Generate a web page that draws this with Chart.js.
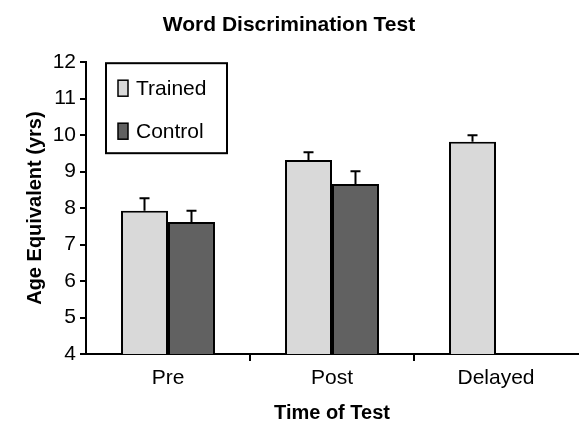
<!DOCTYPE html>
<html>
<head>
<meta charset="utf-8">
<script src="https://cdn.jsdelivr.net/npm/chart.js@4/dist/chart.umd.min.js"></script>
<style>
  html, body { margin: 0; padding: 0; background: #fff; }
  #wrap { width: 579px; height: 425px; }
</style>
</head>
<body>
<div id="wrap"><canvas id="myChart"></canvas></div>
<script>
const categories = ['Pre', 'Post', 'Delayed'];
const trained = [7.93, 9.32, 9.82];
const trainedErr = [0.34, 0.21, 0.18];
const control = [7.62, 8.66, null];
const controlErr = [0.31, 0.35, null];
const yTicks = [4, 5, 6, 7, 8, 9, 10, 11, 12];

const FONT = "'Liberation Sans', Arial, sans-serif";

// error bars drawn from the bar elements and the y scale
const errorBars = {
    id: 'errorBars',
    afterDatasetsDraw(chart) {
        const ctx = chart.ctx;
        const yScale = chart.scales.y;
        chart.data.datasets.forEach((ds, di) => {
            const meta = chart.getDatasetMeta(di);
            meta.data.forEach((bar, i) => {
                const v = ds.data[i];
                const e = ds.errors[i];
                if (v == null || e == null) return;
                const yTop = yScale.getPixelForValue(v + e);
                ctx.save();
                ctx.strokeStyle = '#000';
                ctx.lineWidth = 2;
                ctx.beginPath();
                ctx.moveTo(bar.x, bar.y);
                ctx.lineTo(bar.x, yTop);
                ctx.moveTo(bar.x - 5, yTop);
                ctx.lineTo(bar.x + 5, yTop);
                ctx.stroke();
                ctx.restore();
            });
        });
    }
};

// boxed legend inside the plot, top left
const boxLegend = {
    id: 'boxLegend',
    afterDraw(chart) {
        const ctx = chart.ctx;
        const x0 = chart.chartArea.left + 20;
        const y0 = chart.chartArea.top + 1;
        ctx.save();
        ctx.strokeStyle = '#000';
        ctx.lineWidth = 2;
        ctx.strokeRect(x0, y0, 121, 90);
        ctx.font = '21px ' + FONT;
        ctx.textBaseline = 'middle';
        chart.data.datasets.forEach((ds, i) => {
            const cy = y0 + 25 + i * 43;
            ctx.fillStyle = ds.backgroundColor;
            ctx.fillRect(x0 + 12, cy - 8, 10, 16);
            ctx.lineWidth = 1.5;
            ctx.strokeRect(x0 + 12, cy - 8, 10, 16);
            ctx.fillStyle = '#000';
            ctx.fillText(ds.label, x0 + 30, cy + 1);
        });
        ctx.restore();
    }
};

const ctx = document.getElementById('myChart').getContext('2d');
const myChart = new Chart(ctx, {
    type: 'bar',
    data: {
        labels: categories,
        datasets: [{
            label: 'Trained',
            data: trained,
            errors: trainedErr,
            backgroundColor: '#d9d9d9',
            borderColor: '#000',
            borderWidth: 2,
            borderSkipped: 'bottom'
        }, {
            label: 'Control',
            data: control,
            errors: controlErr,
            backgroundColor: '#616161',
            borderColor: '#000',
            borderWidth: 2,
            borderSkipped: 'bottom'
        }]
    },
    options: {
        responsive: true,
        maintainAspectRatio: false,
        animation: false,
        layout: { padding: { right: 1, left: 0, top: 0, bottom: 0 } },
        categoryPercentage: 0.573,
        barPercentage: 1,
        plugins: {
            legend: { display: false },
            tooltip: { enabled: false },
            title: {
                display: true,
                text: 'Word Discrimination Test',
                color: '#000',
                font: { family: FONT, size: 21, weight: 'bold' },
                padding: { top: 13, bottom: 24 }
            }
        },
        scales: {
            x: {
                grid: {
                    drawOnChartArea: false,
                    offset: true,
                    tickLength: 7,
                    lineWidth: 2,
                    color: (c) => (c.index == null || c.index === 0) ? 'rgba(0,0,0,0)' : '#000'
                },
                border: { color: '#000', width: 2 },
                ticks: { color: '#000', font: { family: FONT, size: 21 }, padding: 5 },
                title: {
                    display: true,
                    text: 'Time of Test',
                    color: '#000',
                    font: { family: FONT, size: 20, weight: 'bold' },
                    padding: { top: 2, bottom: 0 }
                },
                afterFit(scale) { scale.height = 71; }
            },
            y: {
                min: 4,
                max: 12,
                afterBuildTicks(scale) { scale.ticks = yTicks.map(v => ({ value: v })); },
                grid: { drawOnChartArea: false, tickLength: 6, lineWidth: 2, color: '#000' },
                border: { color: '#000', width: 2 },
                ticks: { color: '#000', font: { family: FONT, size: 21 }, padding: 4 },
                title: {
                    display: true,
                    text: 'Age Equivalent (yrs)',
                    color: '#000',
                    font: { family: FONT, size: 20, weight: 'bold' },
                    padding: { top: 23, bottom: 0 }
                },
                afterFit(scale) { scale.width = 86; }
            }
        }
    },
    plugins: [errorBars, boxLegend]
});
</script>
</body>
</html>
